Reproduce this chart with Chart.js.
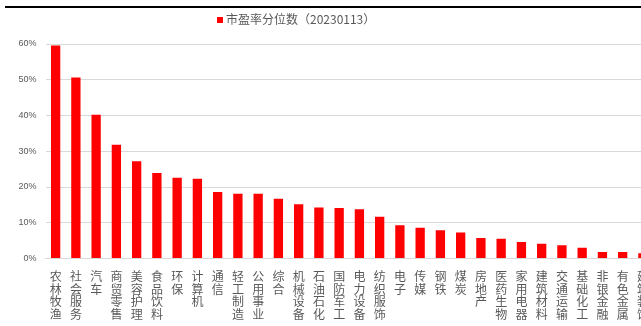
<!DOCTYPE html>
<html>
<head>
<meta charset="utf-8">
<script src="https://cdn.jsdelivr.net/npm/chart.js@4.4.1/dist/chart.umd.min.js"></script>
<style>
  html, body { margin: 0; padding: 0; background: #fff; overflow: hidden; }
  #wrap { position: relative; width: 641px; height: 326px; overflow: hidden; }
  #rule { position: absolute; left: 5px; right: 0; top: 6px; height: 2px; background: #000; }
  #legend { position: absolute; left: 217px; top: 11px; font: 12px "Liberation Sans Narrow", "Noto Sans CJK SC", sans-serif; color: #595959; white-space: nowrap; line-height: 16px; }
  #legend i { display: inline-block; width: 6px; height: 6px; background: #ff0000; margin-right: 3px; vertical-align: 1px; }
  #c { position: absolute; left: 0; top: 0; }
</style>
</head>
<body>
<div id="wrap">
  <div id="rule"></div>
  <canvas id="c" width="660" height="326"></canvas>
  <div id="legend"><i></i><span id="legendText"></span></div>
</div>
<script>
// Industry names (Shenwan level-1), sorted by PE percentile
const industries = [
  '农林牧渔', '社会服务', '汽车', '商贸零售', '美容护理', '食品饮料', '环保', '计算机',
  '通信', '轻工制造', '公用事业', '综合', '机械设备', '石油石化', '国防军工', '电力设备',
  '纺织服饰', '电子', '传媒', '钢铁', '煤炭', '房地产', '医药生物', '家用电器',
  '建筑材料', '交通运输', '基础化工', '非银金融', '有色金属', '建筑装饰'
];
// PE percentile (%) as of 2023-01-13
const pePercentile = [
  59.6, 50.6, 40.2, 31.8, 27.2, 23.9, 22.6, 22.3,
  18.6, 18.1, 18.1, 16.7, 15.2, 14.3, 14.1, 13.8,
  11.7, 9.3, 8.6, 7.9, 7.3, 5.7, 5.5, 4.6,
  4.1, 3.7, 3.0, 1.8, 1.8, 1.5
];
const seriesName = '市盈率分位数（20230113）';
const yTicks = [0, 10, 20, 30, 40, 50, 60];

document.getElementById('legendText').textContent = seriesName;

// each character on its own line so the names read top to bottom
const stackedLabels = industries.map(n => Array.from(n));

new Chart(document.getElementById('c'), {
  type: 'bar',
  data: {
    labels: stackedLabels,
    datasets: [{
      label: seriesName,
      data: pePercentile,
      backgroundColor: '#ff0000',
      borderWidth: 0,
      barPercentage: 0.92,
      categoryPercentage: 0.5
    }]
  },
  options: {
    responsive: false,
    animation: false,
    devicePixelRatio: 1,
    layout: { padding: { top: 44, right: 5, bottom: 0, left: 0 } },
    plugins: {
      legend: { display: false },
      tooltip: { enabled: false }
    },
    scales: {
      x: {
        grid: { display: false, drawTicks: false },
        border: { color: '#d9d9d9', width: 1 },
        ticks: {
          autoSkip: false,
          maxRotation: 0,
          minRotation: 0,
          padding: 11,
          color: '#595959',
          font: { family: '"Noto Sans CJK SC", sans-serif', size: 12, lineHeight: 1.08 }
        },
        afterFit: s => { s.height = 67.5; }
      },
      y: {
        min: 0,
        max: 60,
        afterBuildTicks: s => { s.ticks = yTicks.map(v => ({ value: v })); },
        grid: { color: '#d9d9d9', lineWidth: 1, drawTicks: false },
        border: { display: false },
        ticks: {
          padding: 9,
          color: '#595959',
          font: { family: '"Liberation Sans", sans-serif', size: 9 },
          callback: v => v + '%'
        },
        afterFit: s => { s.width = 45.5; }
      }
    }
  }
});
</script>
</body>
</html>
